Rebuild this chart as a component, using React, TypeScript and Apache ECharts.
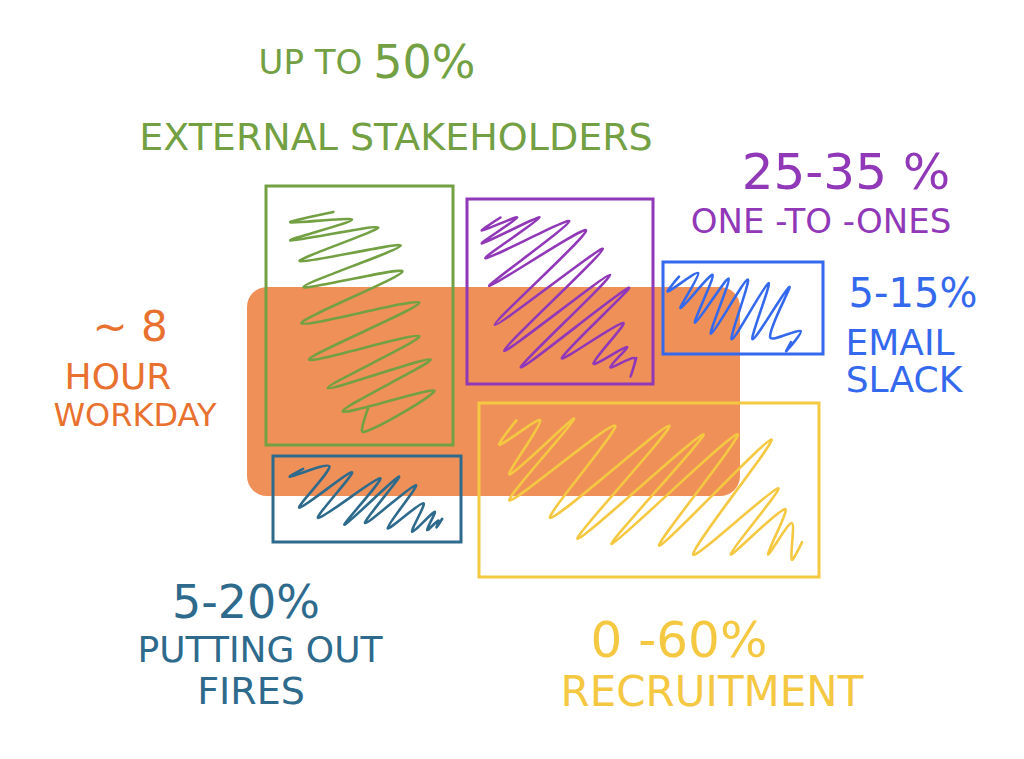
import React, { useEffect, useRef } from "react";
import * as echarts from "echarts";

// ---- data ----
const categories = ["External stakeholders", "One-to-ones", "Email / Slack", "Putting out fires", "Recruitment"];
const shareLabels = ["UP TO 50%", "25-35 %", "5-15%", "5-20%", "0 -60%"];
const boxLeft = [266, 467, 663, 273, 479];
const boxTop = [186, 199, 262, 456, 403];
const boxRight = [453, 653, 823, 461, 819];
const boxBottom = [445, 384, 354, 542, 577];
const workdayBox = [247, 287, 740, 496]; // left, top, right, bottom
const workdayLabel = ["~ 8", "HOUR", "WORKDAY"];

// ---- styles ----
const boxColors = ["#72A043", "#9038B8", "#3469EE", "#2E6A8C", "#F5C842"];
const workdayFill = "#EF9058";
const workdayText = "#E9712F";
// scribble hatching (decoration): box-normalised turn points, low/left ones and high/right ones
const scribbleLow: number[][][] = [
  [[0.13, 0.14], [0.13, 0.21], [0.18, 0.29], [0.2, 0.39], [0.19, 0.53], [0.23, 0.67], [0.33, 0.78], [0.41, 0.87], [0.52, 0.95]],
  [[0.08, 0.17], [0.08, 0.24], [0.1, 0.32], [0.12, 0.47], [0.15, 0.68], [0.2, 0.82], [0.29, 0.91], [0.51, 0.86], [0.68, 0.89], [0.77, 0.91], [0.88, 0.96]],
  [[0.03, 0.32], [0.11, 0.5], [0.2, 0.66], [0.3, 0.78], [0.43, 0.84], [0.56, 0.84], [0.67, 0.82], [0.77, 0.97]],
  [[0.09, 0.24], [0.14, 0.6], [0.24, 0.72], [0.38, 0.8], [0.49, 0.78], [0.61, 0.84], [0.74, 0.88], [0.82, 0.86], [0.87, 0.83]],
  [[0.06, 0.24], [0.09, 0.41], [0.09, 0.56], [0.21, 0.66], [0.29, 0.78], [0.39, 0.81], [0.53, 0.82], [0.63, 0.87], [0.74, 0.87], [0.85, 0.87], [0.92, 0.9]],
];
const scribbleHigh: number[][][] = [
  [[0.36, 0.1], [0.46, 0.13], [0.6, 0.16], [0.72, 0.23], [0.73, 0.33], [0.82, 0.45], [0.82, 0.58], [0.88, 0.67], [0.9, 0.79]],
  [[0.18, 0.1], [0.27, 0.1], [0.39, 0.1], [0.55, 0.12], [0.64, 0.17], [0.73, 0.27], [0.77, 0.41], [0.87, 0.48], [0.84, 0.67], [0.86, 0.8], [0.9, 0.86]],
  [[0.1, 0.16], [0.22, 0.12], [0.31, 0.14], [0.41, 0.18], [0.53, 0.19], [0.66, 0.23], [0.79, 0.27], [0.86, 0.75]],
  [[0.16, 0.15], [0.3, 0.12], [0.42, 0.19], [0.57, 0.26], [0.67, 0.24], [0.76, 0.34], [0.8, 0.55], [0.86, 0.65], [0.88, 0.75]],
  [[0.11, 0.1], [0.18, 0.1], [0.28, 0.09], [0.4, 0.13], [0.56, 0.13], [0.66, 0.18], [0.76, 0.18], [0.86, 0.21], [0.88, 0.49], [0.9, 0.61], [0.92, 0.69]],
];

const FONT = "DejaVu Sans";

function scribblePoints(i: number, x0: number, y0: number, x1: number, y1: number) {
  const w = x1 - x0, h = y1 - y0;
  const lows = scribbleLow[i], highs = scribbleHigh[i];
  const pts: number[][] = [];
  for (let k = 0; k < lows.length; k++) {
    if (highs[k]) pts.push([x0 + highs[k][0] * w, y0 + highs[k][1] * h]);
    pts.push([x0 + lows[k][0] * w, y0 + lows[k][1] * h]);
  }
  // closing upward hook
  const last = lows[lows.length - 1];
  pts.push([x0 + Math.min(0.95, last[0] + 0.03) * w, y0 + (last[1] - 0.1) * h]);
  return pts;
}

function txt(text: string, x: number, y: number, size: number, color: string) {
  return {
    type: "text",
    x,
    y,
    z: 10,
    style: {
      text,
      fill: color,
      fontFamily: FONT,
      fontSize: size,
      lineHeight: size,
      align: "center",
      verticalAlign: "middle",
    },
  };
}

export default function App() {
  const ref = useRef<HTMLDivElement>(null);
  useEffect(() => {
    if (!ref.current) return;
    const chart = echarts.init(ref.current, undefined, { renderer: "svg" });
    const boxData = categories.map((c, i) => ({
      name: c,
      value: [i, boxLeft[i], boxTop[i], boxRight[i], boxBottom[i]],
    }));
    chart.setOption({
      animation: false,
      backgroundColor: "#ffffff",
      grid: { left: 0, right: 0, top: 0, bottom: 0 },
      xAxis: { type: "value", min: 0, max: 1024, show: false },
      yAxis: { type: "value", min: 0, max: 759, inverse: true, show: false },
      series: [
        {
          type: "custom",
          name: "8 hour workday",
          z: 1,
          encode: { x: [0, 2], y: [1, 3] },
          data: [workdayBox],
          renderItem: (params: any, api: any) => {
            const a = api.coord([api.value(0), api.value(1)]);
            const b = api.coord([api.value(2), api.value(3)]);
            return {
              type: "rect",
              shape: { x: a[0], y: a[1], width: b[0] - a[0], height: b[1] - a[1], r: 20 },
              style: { fill: workdayFill },
            };
          },
        },
        {
          type: "custom",
          name: "activities",
          z: 2,
          encode: { x: [1, 3], y: [2, 4] },
          data: boxData,
          renderItem: (params: any, api: any) => {
            const i = api.value(0);
            const a = api.coord([api.value(1), api.value(2)]);
            const b = api.coord([api.value(3), api.value(4)]);
            const col = boxColors[i];
            return {
              type: "group",
              children: [
                {
                  type: "rect",
                  shape: { x: a[0], y: a[1], width: b[0] - a[0], height: b[1] - a[1] },
                  style: { fill: "none", stroke: col, lineWidth: 3 },
                },
                {
                  type: "polyline",
                  shape: { points: scribblePoints(i, a[0], a[1], b[0], b[1]), smooth: 0.3 },
                  style: { fill: "none", stroke: col, lineWidth: 2.6, lineJoin: "round", lineCap: "round" },
                },
              ],
            };
          },
        },
      ],
      graphic: [
        {
          type: "text",
          x: 367,
          y: 62,
          z: 10,
          style: {
            text: "{a|UP TO }{b|50%}",
            align: "center",
            verticalAlign: "middle",
            rich: {
              a: { fontFamily: FONT, fontSize: 34, lineHeight: 40, fill: boxColors[0], color: boxColors[0] },
              b: { fontFamily: FONT, fontSize: 46, lineHeight: 46, fill: boxColors[0], color: boxColors[0] },
            },
          },
        },
        txt("EXTERNAL STAKEHOLDERS", 396, 137, 38, boxColors[0]),
        txt(shareLabels[1], 846, 172, 50, boxColors[1]),
        txt("ONE -TO -ONES", 821, 221, 34, boxColors[1]),
        txt(shareLabels[2], 913, 293, 40, boxColors[2]),
        txt("EMAIL", 900, 342, 36, boxColors[2]),
        txt("SLACK", 904, 379, 36, boxColors[2]),
        txt(workdayLabel[0], 130, 326, 42, workdayText),
        txt(workdayLabel[1], 118, 376, 36, workdayText),
        txt(workdayLabel[2], 135, 415, 32, workdayText),
        txt(shareLabels[3], 246, 602, 46, boxColors[3]),
        txt("PUTTING OUT", 260, 649, 36, boxColors[3]),
        txt("FIRES", 251, 691, 38, boxColors[3]),
        txt(shareLabels[4], 679, 640, 50, boxColors[4]),
        txt("RECRUITMENT", 712, 691, 42, boxColors[4]),
      ],
    });
    return () => chart.dispose();
  }, []);
  return (
    <div
      ref={ref}
      style={{ position: "fixed", left: 0, top: 0, width: 1024, height: 759 }}
    />
  );
}
